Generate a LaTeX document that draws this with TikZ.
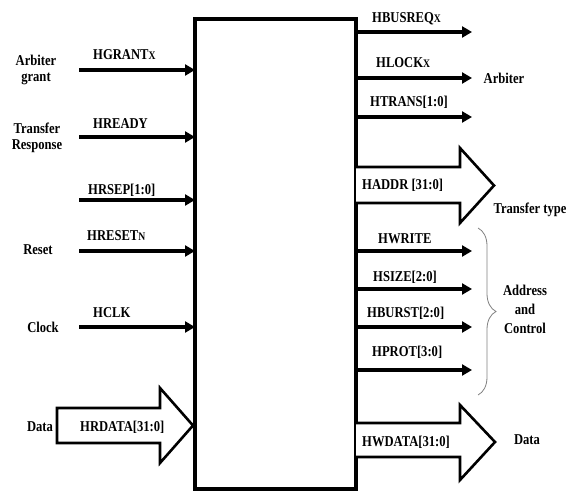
\documentclass[tikz,border=0pt]{standalone}
\usepackage{fontspec}
\setmainfont{Liberation Serif}[FakeStretch=0.84]
\usetikzlibrary{arrows.meta,decorations.pathreplacing}
\newcommand{\smx}[1]{{\fontsize{11.5}{12}\selectfont #1}}
\begin{document}
\begin{tikzpicture}[x=1pt,y=-1pt,
  lbl/.style={font=\bfseries\fontsize{15}{16}\selectfont, inner sep=0pt, align=center},
  sig/.style={lbl, anchor=west},
  wire/.style={line width=3.5pt, -{Triangle[length=10pt,width=11pt]}},
  bigarrow/.style={line width=2.6pt, fill=white, line join=miter},
]
\useasboundingbox (0,0) rectangle (567,494);
% main block
\node[draw, line width=4.5pt, minimum width=161pt, minimum height=470pt,
      inner sep=0pt, outer sep=0pt, anchor=north west] (bus) at (195,19) {};

% ---------- inputs ----------
\coordinate (i1) at (79,70);
\coordinate (i2) at (79,137);
\coordinate (i3) at (79,200);
\coordinate (i4) at (79,251);
\coordinate (i5) at (79,327);
\draw[wire] (i1) -- (i1 -| bus.west);
\draw[wire] (i2) -- (i2 -| bus.west);
\draw[wire] (i3) -- (i3 -| bus.west);
\draw[wire] (i4) -- (i4 -| bus.west);
\draw[wire] (i5) -- (i5 -| bus.west);

\node[sig] (sHGRANT) at (93,55) {HGRANT\smx{X}};
\node[sig] (sHREADY) at (93,124) {HREADY};
\node[sig] (sHRSEP) at (88,190) {HRSEP[1:0]};
\node[sig] (sHRESET) at (87,236) {HRESET\smx{N}};
\node[sig] (sHCLK) at (93,313) {HCLK};

\node[lbl] (lArb) at (36,70) {Arbiter\\grant};
\node[lbl] (lTR) at (37,138) {Transfer\\Response};
\node[lbl] (lReset) at (38,250) {Reset};
\node[lbl] (lClock) at (43,327) {Clock};
\node[lbl] (lData) at (40,427) {Data};

% HRDATA big arrow
\draw[bigarrow] (57,408) -- (160,408) -- (160,388) -- (193,425.5) -- (160,463) -- (160,443) -- (57,443) -- cycle;
\node[sig] (sHRDATA) at (80,427) {HRDATA[31:0]};

% ---------- outputs ----------
\coordinate (o1) at (472,32);
\coordinate (o2) at (472,78);
\coordinate (o3) at (472,117);
\coordinate (o4) at (472,251);
\coordinate (o5) at (472,289);
\coordinate (o6) at (472,327);
\coordinate (o7) at (472,370);
\draw[wire] (o1 -| bus.east) -- (o1);
\draw[wire] (o2 -| bus.east) -- (o2);
\draw[wire] (o3 -| bus.east) -- (o3);
\draw[wire] (o4 -| bus.east) -- (o4);
\draw[wire] (o5 -| bus.east) -- (o5);
\draw[wire] (o6 -| bus.east) -- (o6);
\draw[wire] (o7 -| bus.east) -- (o7);

\node[sig] (sHBUSREQ) at (372,19) {HBUSREQ\smx{X}};
\node[sig] (sHLOCK) at (376,63) {HLOCK\smx{X}};
\node[sig] (sHTRANS) at (370,102) {HTRANS[1:0]};
\node[sig] (sHWRITE) at (378,239) {HWRITE};
\node[sig] (sHSIZE) at (373,277) {HSIZE[2:0]};
\node[sig] (sHBURST) at (367,313) {HBURST[2:0]};
\node[sig] (sHPROT) at (372,352) {HPROT[3:0]};

% HADDR big arrow
\draw[bigarrow] (356,167) -- (460,167) -- (460,148) -- (494,185.5) -- (460,223) -- (460,203) -- (356,203);
\node[sig] (sHADDR) at (362,185) {HADDR [31:0]};

% HWDATA big arrow
\draw[bigarrow] (356,423) -- (460,423) -- (460,405) -- (495,442) -- (460,480) -- (460,457) -- (356,457);
\node[sig] (sHWDATA) at (362,442) {HWDATA[31:0]};

\node[lbl] (rArb) at (504,78) {Arbiter};
\node[lbl] (rTT) at (530,210) {Transfer type};
\node[lbl, font=\bfseries\fontsize{15}{19}\selectfont] (rAC) at (525,309) {Address\\and\\Control};
\node[lbl] (rData) at (527,440) {Data};

% brace
\draw[gray, line width=0.8pt, decorate, decoration={brace, amplitude=18pt}] (478,228) -- (478,395);
\end{tikzpicture}
\end{document}
